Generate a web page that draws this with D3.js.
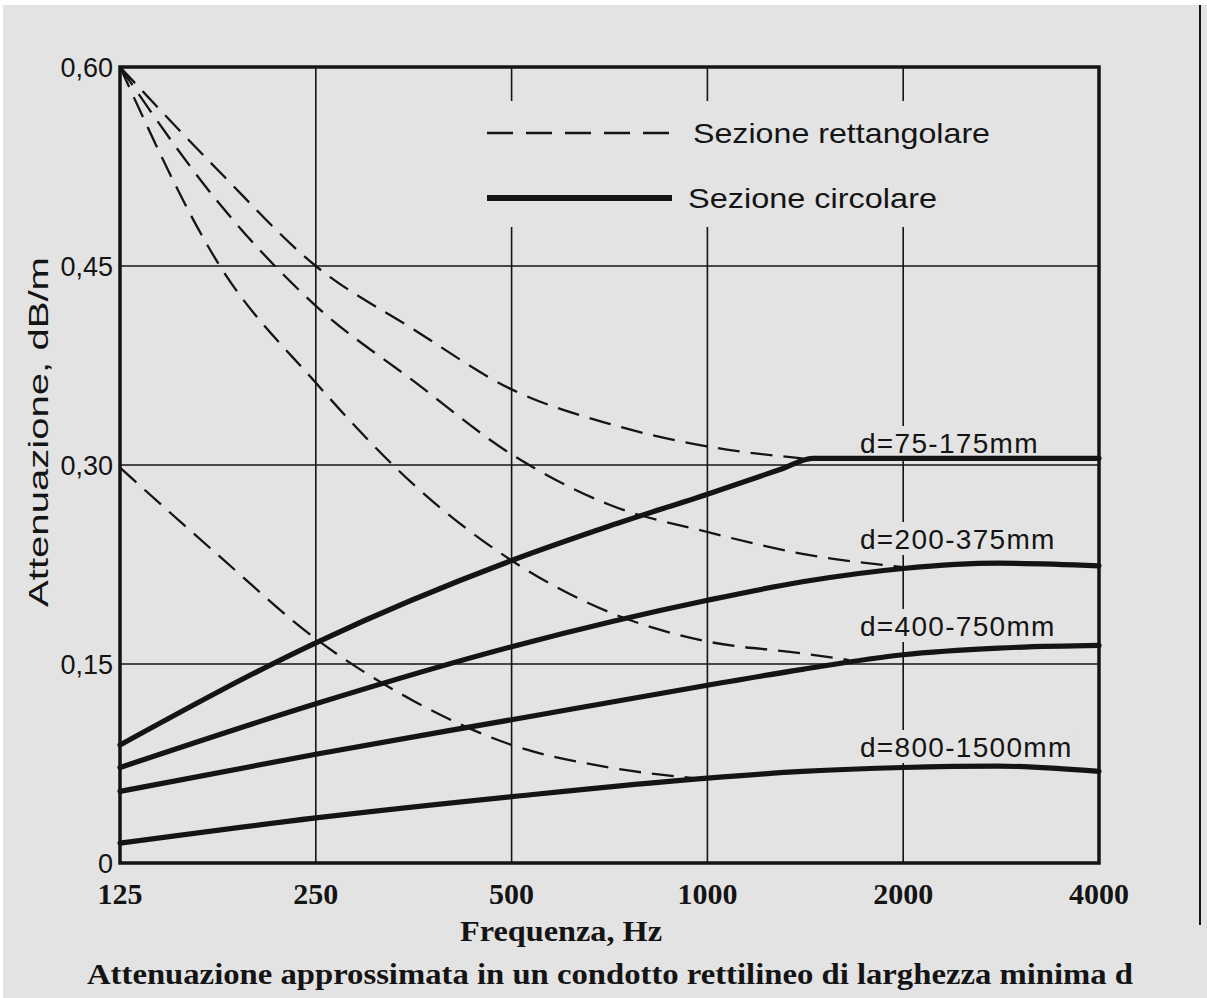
<!DOCTYPE html>
<html>
<head>
<meta charset="utf-8">
<script src="https://cdn.jsdelivr.net/npm/d3@7"></script>
<style>
  html, body { margin: 0; padding: 0; background: #ffffff; }
  svg { display: block; }
</style>
</head>
<body>
<svg id="chart" width="1207" height="998"></svg>
<script>
// ---------------- DATA ----------------
const freqTicks = [125, 250, 500, 1000, 2000, 4000];
const freqTickLabels = ["125", "250", "500", "1000", "2000", "4000"];
const yTicks = [0, 0.15, 0.30, 0.45, 0.60];
const yTickLabels = ["0", "0,15", "0,30", "0,45", "0,60"];

// Sezione circolare (solid lines)
const circFreq75   = [125, 250, 500, 707, 1000, 1300, 1450, 2000, 4000];
const circ75_175   = [0.089, 0.166, 0.228, 0.254, 0.278, 0.297, 0.305, 0.305, 0.305];
const circFreq     = [125, 250, 500, 1000, 1400, 2000, 2800, 4000];
const circ200_375  = [0.072, 0.120, 0.163, 0.198, 0.212, 0.222, 0.226, 0.224];
const circ400_750  = [0.054, 0.082, 0.108, 0.134, 0.146, 0.157, 0.162, 0.164];
const circ800_1500 = [0.015, 0.034, 0.050, 0.064, 0.069, 0.072, 0.073, 0.069];

// Sezione rettangolare (dashed lines)
const rectFreq75   = [125, 177, 250, 354, 500, 707, 1000, 1400];
const rect75_175   = [0.600, 0.522, 0.450, 0.402, 0.357, 0.331, 0.314, 0.305];
const rectFreq200  = [125, 177, 250, 354, 500, 707, 1000, 1400, 2000];
const rect200_375  = [0.600, 0.498, 0.420, 0.363, 0.308, 0.270, 0.2495, 0.233, 0.223];
const rectFreq400  = [125, 177, 250, 354, 500, 707, 1000, 1400, 1650];
const rect400_750  = [0.600, 0.452, 0.362, 0.285, 0.228, 0.189, 0.167, 0.158, 0.153];
const rectFreq800  = [125, 177, 250, 354, 500, 707, 950];
const rect800_1500 = [0.298, 0.232, 0.169, 0.122, 0.089, 0.072, 0.064];

const curveLabels = ["d=75-175mm", "d=200-375mm", "d=400-750mm", "d=800-1500mm"];
const legendLabels = ["Sezione rettangolare", "Sezione circolare"];
const yTitle = "Attenuazione, dB/m";
const xTitle = "Frequenza, Hz";
const caption = "Attenuazione approssimata in un condotto rettilineo di larghezza minima d";

// ---------------- LAYOUT ----------------
const BG = "#e3e3e3";
const INK = "#141414";
const svg = d3.select("#chart");

// page background (scan look)
svg.append("rect").attr("x", 0).attr("y", 0).attr("width", 1207).attr("height", 998).attr("fill", "#ffffff");
svg.append("rect").attr("x", 3).attr("y", 5).attr("width", 1204).attr("height", 993).attr("fill", BG);
svg.append("line").attr("x1", 1200).attr("x2", 1200).attr("y1", 5).attr("y2", 925)
  .attr("stroke", INK).attr("stroke-width", 2);

const pL = 120, pR = 1099, pT = 67, pB = 863;
const x = d3.scaleLog().base(2).domain([125, 4000]).range([pL, pR]);
const y = d3.scaleLinear().domain([0, 0.60]).range([pB, pT]);

const sans = "'Liberation Sans', Arial, sans-serif";
const serif = "'Liberation Serif', 'Times New Roman', serif";

// grid lines
const grid = svg.append("g").attr("stroke", INK).attr("stroke-width", 1.6);
grid.selectAll("line.v").data(freqTicks.slice(1, -1)).join("line").attr("class", "v")
  .attr("x1", d => x(d)).attr("x2", d => x(d)).attr("y1", pT).attr("y2", pB);
grid.selectAll("line.h").data(yTicks.slice(1, -1)).join("line").attr("class", "h")
  .attr("x1", pL).attr("x2", pR).attr("y1", d => y(d)).attr("y2", d => y(d));

// legend area clears the grid lines
const legendG = svg.append("g");
legendG.append("rect").attr("x", 470).attr("y", 101).attr("width", 540).attr("height", 126).attr("fill", BG);

const leg = [
  {label: legendLabels[0], dash: "26,13", w: 2.6, y: 133, tx: 693, len: 297},
  {label: legendLabels[1], dash: null, w: 6, y: 198, tx: 688, len: 249}
];
leg.forEach(l => {
  legendG.append("line").attr("x1", 487).attr("x2", 672).attr("y1", l.y).attr("y2", l.y)
    .attr("stroke", INK).attr("stroke-width", l.w)
    .attr("stroke-dasharray", l.dash);
  legendG.append("text").attr("x", l.tx).attr("y", l.y + 10)
    .attr("font-family", sans).attr("font-size", 28).attr("fill", INK)
    .attr("textLength", l.len).attr("lengthAdjust", "spacingAndGlyphs")
    .text(l.label);
});

// curve labels with background (break the 2000 Hz grid line)
const labelG = svg.append("g");
const labelPos = [453, 549, 636, 757];
curveLabels.forEach((t, i) => {
  const txt = labelG.append("text").attr("x", 860).attr("y", labelPos[i])
    .attr("font-family", sans).attr("font-size", 28).attr("fill", INK)
    .attr("letter-spacing", 1.3)
    .text(t);
  const bb = txt.node().getBBox();
  labelG.insert("rect", "text").attr("x", bb.x - 3).attr("y", bb.y - 2)
    .attr("width", bb.width + 6).attr("height", bb.height + 2).attr("fill", BG);
});
labelG.selectAll("text").raise();

// series
const line = d3.line().x(d => x(d.f)).y(d => y(d.v)).curve(d3.curveMonotoneX);
const zip = (fs, vs) => fs.map((f, i) => ({f, v: vs[i]}));

const rectSeries = [
  zip(rectFreq75, rect75_175), zip(rectFreq200, rect200_375),
  zip(rectFreq400, rect400_750), zip(rectFreq800, rect800_1500)
];
const circSeries = [
  zip(circFreq75, circ75_175), zip(circFreq, circ200_375),
  zip(circFreq, circ400_750), zip(circFreq, circ800_1500)
];

svg.append("g").selectAll("path").data(rectSeries).join("path")
  .attr("d", line).attr("fill", "none").attr("stroke", INK)
  .attr("stroke-width", 2.3).attr("stroke-dasharray", "22,11");

svg.append("g").selectAll("path").data(circSeries).join("path")
  .attr("d", line).attr("fill", "none").attr("stroke", INK)
  .attr("stroke-width", 5.2).attr("stroke-linecap", "round");

// frame
svg.append("rect").attr("x", pL).attr("y", pT).attr("width", pR - pL).attr("height", pB - pT)
  .attr("fill", "none").attr("stroke", INK).attr("stroke-width", 3.5);

// y tick labels
svg.append("g").selectAll("text").data(yTicks).join("text")
  .attr("x", 113).attr("y", d => y(d) + 10)
  .attr("text-anchor", "end").attr("font-family", sans).attr("font-size", 27).attr("fill", INK)
  .text((d, i) => yTickLabels[i]);

// x tick labels
svg.append("g").selectAll("text").data(freqTicks).join("text")
  .attr("x", d => x(d)).attr("y", 904)
  .attr("text-anchor", "middle").attr("font-family", serif).attr("font-weight", "bold")
  .attr("font-size", 30).attr("fill", INK)
  .text((d, i) => freqTickLabels[i]);

// axis titles
svg.append("text").attr("transform", "translate(48,432) rotate(-90)")
  .attr("text-anchor", "middle").attr("font-family", sans).attr("font-size", 28).attr("fill", INK)
  .attr("textLength", 350).attr("lengthAdjust", "spacingAndGlyphs")
  .text(yTitle);

svg.append("text").attr("x", 561).attr("y", 941)
  .attr("text-anchor", "middle").attr("font-family", serif).attr("font-weight", "bold")
  .attr("font-size", 30).attr("fill", INK)
  .attr("textLength", 202).attr("lengthAdjust", "spacingAndGlyphs")
  .text(xTitle);

svg.append("text").attr("x", 87).attr("y", 984)
  .attr("font-family", serif).attr("font-weight", "bold")
  .attr("font-size", 30).attr("fill", INK)
  .attr("textLength", 1046).attr("lengthAdjust", "spacingAndGlyphs")
  .text(caption);
</script>
</body>
</html>
